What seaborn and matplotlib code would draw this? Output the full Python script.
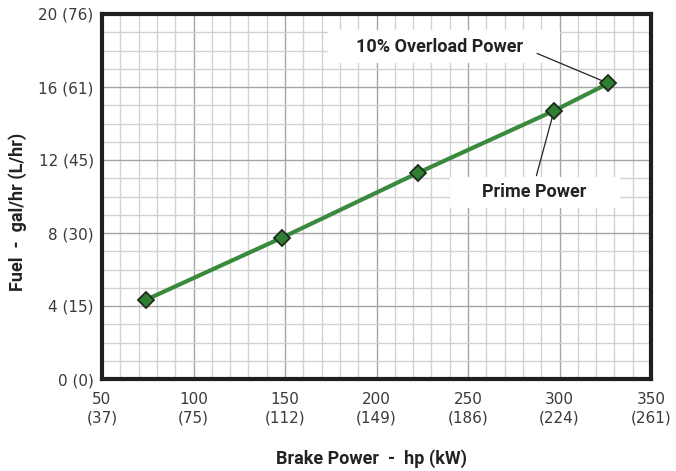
import matplotlib
matplotlib.use("Agg")
import matplotlib.pyplot as plt
import seaborn as sns
import pandas as pd
import numpy as np
from matplotlib.ticker import MultipleLocator
from matplotlib.patches import Rectangle

# Data
brake_hp = [74.25, 148.5, 222.75, 297.0, 326.7]
fuel_gal = [4.35, 7.75, 11.3, 14.7, 16.2]
x_ticks = [50, 100, 150, 200, 250, 300, 350]
x_tick_labels = ["50\n(37)", "100\n(75)", "150\n(112)", "200\n(149)", "250\n(186)", "300\n(224)", "350\n(261)"]
y_ticks = [0, 4, 8, 12, 16, 20]
y_tick_labels = ["0 (0)", "4 (15)", "8 (30)", "12 (45)", "16 (61)", "20 (76)"]

df = pd.DataFrame({"hp": brake_hp, "fuel": fuel_gal})

sns.set_style("white")
plt.rcParams["font.family"] = ["DejaVu Sans"]

fig = plt.figure(figsize=(6.76, 4.71), dpi=100)
ax = fig.add_axes([102/676, 1-379/471, (651-102)/676, (379-14)/471])

ax.set_xlim(50, 350)
ax.set_ylim(0, 20)
ax.xaxis.set_minor_locator(MultipleLocator(10))
ax.yaxis.set_minor_locator(MultipleLocator(1))
ax.grid(which="minor", color="#d2d2d2", linewidth=1.0, zorder=0)
ax.grid(which="major", color="#a5a5a5", linewidth=1.0, zorder=0)
ax.set_axisbelow(True)

sns.lineplot(data=df, x="hp", y="fuel", ax=ax, color="#3a8a3e", linewidth=3.0,
             marker="D", markersize=8.5, markerfacecolor="#2f7f33",
             markeredgecolor="#1e2a1e", markeredgewidth=1.3, zorder=5)

ax.set_xticks(x_ticks)
ax.set_xticklabels(x_tick_labels, family="DejaVu Sans", linespacing=1.35)
ax.set_yticks(y_ticks)
ax.set_yticklabels(y_tick_labels, family="DejaVu Sans")
ax.tick_params(axis="both", which="major", length=4, width=1, color="#888888",
               labelsize=11, labelcolor="#3a3a3a", direction="out")
ax.tick_params(axis="x", which="major", pad=5)
ax.tick_params(axis="y", which="major", pad=2)
ax.tick_params(axis="both", which="minor", length=0)

for s in ax.spines.values():
    s.set_visible(True)
    s.set_color("#1f1f1f")
    s.set_linewidth(3)

label_font = ["Roboto", "DejaVu Sans"]
ax.set_xlabel("Brake Power  -  hp (kW)", fontsize=13, fontweight="bold",
              family=label_font, color="#222222")
ax.xaxis.set_label_coords(0.49, (379-449)/365)
ax.set_ylabel("Fuel  -  gal/hr (L/hr)", fontsize=13, fontweight="bold",
              family=label_font, color="#222222")
ax.yaxis.set_label_coords((27-102)/549, 0.4575)

# white label backgrounds (axes fraction)
ax.add_patch(Rectangle((0.4117, 0.8658), 0.4223, 0.0902, transform=ax.transAxes,
                       facecolor="white", edgecolor="none", zorder=4))
ax.add_patch(Rectangle((0.634, 0.4685), 0.3095, 0.0849, transform=ax.transAxes,
                       facecolor="white", edgecolor="none", zorder=4))

ax.annotate("10% Overload Power", xy=(brake_hp[4], fuel_gal[4]),
            xytext=(234.7, 18.2), textcoords="data", ha="center", va="center",
            fontsize=13, fontweight="bold", family=label_font, color="#222222",
            arrowprops=dict(arrowstyle="-", color="#222222", lw=0.9,
                            relpos=(1.0, 0.45), shrinkA=8, shrinkB=5), zorder=6)
ax.annotate("Prime Power", xy=(brake_hp[3], fuel_gal[3]),
            xytext=(286.3, 10.25), textcoords="data", ha="center", va="center",
            fontsize=13, fontweight="bold", family=label_font, color="#222222",
            arrowprops=dict(arrowstyle="-", color="#222222", lw=0.9,
                            relpos=(0.5, 1.0), shrinkA=3, shrinkB=5), zorder=6)

fig.savefig("out.png", dpi=100)
